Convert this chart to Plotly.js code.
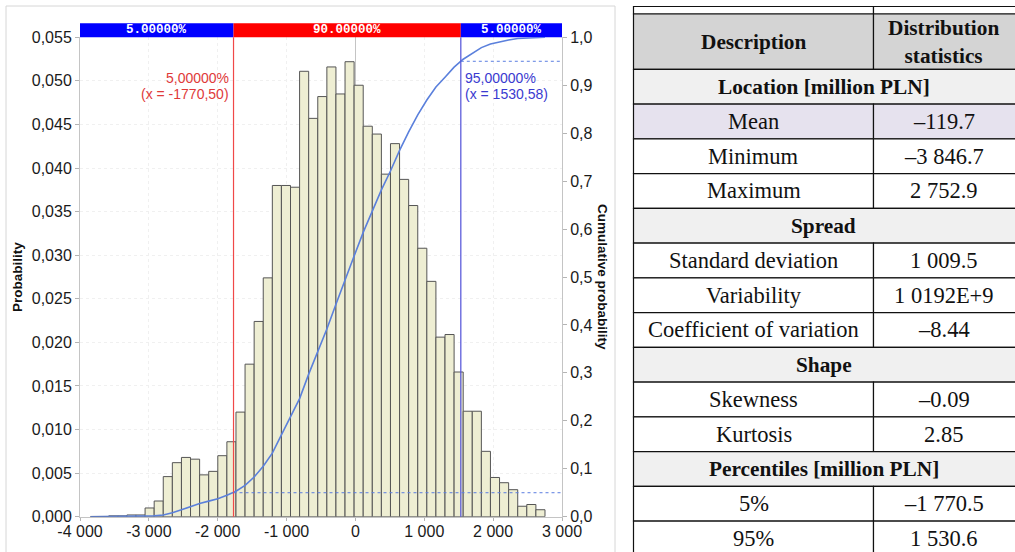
<!DOCTYPE html>
<html>
<head>
<meta charset="utf-8">
<script src="https://cdn.plot.ly/plotly-3.0.1.min.js"></script>
<style>
  html, body { margin: 0; padding: 0; background: #ffffff; }
  #chart { width: 1015px; height: 552px; }
</style>
</head>
<body>
<div id="chart"></div>
<script>
// Histogram of simulated outcomes [million PLN]: probability per bin (50 equal bins from min to max)
const probabilities = [
  0.00003, 0.00003, 0.0001, 0.0001, 0.0002, 0.0002, 0.0010, 0.0018, 0.0046, 0.0062,
  0.0068, 0.0066, 0.0048, 0.0052, 0.0070, 0.0086, 0.0120, 0.0175, 0.0224, 0.0274,
  0.0380, 0.0380, 0.0378, 0.0511, 0.0457, 0.0482, 0.0516, 0.0485, 0.0522, 0.0495,
  0.0448, 0.0439, 0.0393, 0.0428, 0.0387, 0.0357, 0.0308, 0.0270, 0.0206, 0.0209,
  0.0166, 0.0121, 0.0121, 0.0075, 0.0045, 0.0039, 0.0031, 0.0012, 0.0014, 0.0008
];
const sampleMin = -3846.7;
const sampleMax = 2752.9;

// Percentile markers
const tailShares = [5, 90, 5];
const percentile5 = -1770.50;
const percentile95 = 1530.58;

// Axis ticks
const xTickValues = [-4000, -3000, -2000, -1000, 0, 1000, 2000, 3000];
const xTickLabels = ['-4 000', '-3 000', '-2 000', '-1 000', '0', '1 000', '2 000', '3 000'];

// Statistics table
const headerLabels = ['Description', 'Distribution<br>statistics'];
const rowLabels = [
  'Location [million PLN]', 'Mean', 'Minimum', 'Maximum',
  'Spread', 'Standard deviation', 'Variability', 'Coefficient of variation',
  'Shape', 'Skewness', 'Kurtosis',
  'Percentiles [million PLN]', '5%', '95%'
];
const rowValues = [
  null, '\u2013119.7', '\u20133 846.7', '2 752.9',
  null, '1 009.5', '1 0192E+9', '\u20138.44',
  null, '\u20130.09', '2.85',
  null, '\u20131 770.5', '1 530.6'
];
const highlightedRow = 'Mean';

// ---- derived series ----
const binCount = probabilities.length;
const binWidth = (sampleMax - sampleMin) / binCount;
const binCenters = probabilities.map((_, i) => sampleMin + (i + 0.5) * binWidth);
const binEdges = [sampleMin];
const cumulative = [0];
probabilities.forEach((p, i) => {
  binEdges.push(sampleMin + (i + 1) * binWidth);
  cumulative.push(Math.min(1, cumulative[i] + p));
});

// ---- page geometry ----
const W = 1015, H = 552;
const px = v => v / W;
const py = v => 1 - v / H;
const plotLeft = 80, plotRight = 562, plotTop = 37.3, plotBottom = 516.7;
const bandTop = 23.3;

const sansFont = 'Liberation Sans, Arial, sans-serif';
const serifFont = 'Liberation Serif, Times New Roman, serif';
const fmtPct = v => v.toFixed(5);
const fmtComma = (v, d) => v.toFixed(d).replace('.', ',');

const shapes = [];
const annotations = [];

// outer frame around the chart
shapes.push({type: 'rect', xref: 'paper', yref: 'paper',
  x0: px(6), x1: px(615), y0: py(570), y1: py(6),
  line: {color: '#d6d6d6', width: 1}, fillcolor: 'rgba(0,0,0,0)', layer: 'below'});

// coloured percentile bands above the plot
const bandBounds = [[-4000, percentile5], [percentile5, percentile95], [percentile95, 3000]];
const bandColors = ['#0000ff', '#ff0000', '#0000ff'];
bandBounds.forEach((b, i) => {
  shapes.push({type: 'rect', xref: 'x', yref: 'paper', x0: b[0], x1: b[1],
    y0: py(plotTop), y1: py(bandTop), fillcolor: bandColors[i], line: {width: 0}});
  annotations.push({xref: 'x', yref: 'paper', x: (b[0] + b[1]) / 2, y: py((plotTop + bandTop) / 2),
    text: fmtPct(tailShares[i]) + '%', showarrow: false, xanchor: 'center', yanchor: 'middle',
    font: {family: 'Liberation Mono, DejaVu Sans Mono, monospace', size: 12.5, color: '#ffffff', weight: 'bold'}});
});

// percentile lines
shapes.push({type: 'line', xref: 'x', yref: 'paper', x0: percentile5, x1: percentile5,
  y0: py(plotBottom), y1: py(plotTop), line: {color: '#f04848', width: 1.2}, layer: 'above'});
shapes.push({type: 'line', xref: 'x', yref: 'paper', x0: percentile95, x1: percentile95,
  y0: py(plotBottom), y1: py(plotTop), line: {color: '#5050d8', width: 1.2}, layer: 'above'});
shapes.push({type: 'line', xref: 'x', yref: 'y2', x0: percentile5, x1: 3000, y0: 0.05, y1: 0.05,
  line: {color: '#5a7de0', width: 1, dash: 'dot'}, layer: 'above'});
shapes.push({type: 'line', xref: 'x', yref: 'y2', x0: percentile95, x1: 3000, y0: 0.95, y1: 0.95,
  line: {color: '#5a7de0', width: 1, dash: 'dot'}, layer: 'above'});

// percentile labels
const lowColor = '#e03a3a', highColor = '#3a3ad0';
[[fmtPct(5).replace('.', ',') + '%', 77.7], ['(x = ' + fmtComma(percentile5, 2) + ')', 94.3]].forEach(t => {
  annotations.push({xref: 'x', yref: 'paper', x: percentile5, y: py(t[1]), xshift: -3,
    text: t[0], showarrow: false, xanchor: 'right', yanchor: 'middle',
    font: {family: sansFont, size: 14, color: lowColor}});
});
[[fmtPct(95).replace('.', ',') + '%', 77.7], ['(x = ' + fmtComma(percentile95, 2) + ')', 94.3]].forEach(t => {
  annotations.push({xref: 'x', yref: 'paper', x: percentile95, y: py(t[1]), xshift: 2,
    text: t[0], showarrow: false, xanchor: 'left', yanchor: 'middle',
    font: {family: sansFont, size: 14, color: highColor}});
});

// axis titles
annotations.push({xref: 'paper', yref: 'paper', x: px(17), y: py((plotTop + plotBottom) / 2),
  text: 'Probability', textangle: -90, showarrow: false, xanchor: 'center', yanchor: 'middle',
  font: {family: sansFont, size: 13.5, color: '#111', weight: 'bold'}});
annotations.push({xref: 'paper', yref: 'paper', x: px(603), y: py((plotTop + plotBottom) / 2),
  text: 'Cumulative probability', textangle: 90, showarrow: false, xanchor: 'center', yanchor: 'middle',
  font: {family: sansFont, size: 13.5, color: '#111', weight: 'bold'}});

// ---- statistics table ----
const tLeft = 633.5, tMid = 873.5, tRight = 1017;
const tTop = 6.5, tHeadTop = 14, tHeadBottom = 69.3, rowH = 34.75;
const border = {color: '#111111', width: 1.2};
const cell = (x0, x1, y0, y1, fill) => shapes.push({type: 'rect', xref: 'paper', yref: 'paper',
  x0: px(x0), x1: px(x1), y0: py(y1), y1: py(y0), fillcolor: fill, line: border});
const cellText = (x, y, text, bold, size) => annotations.push({xref: 'paper', yref: 'paper',
  x: px(x), y: py(y), text: text, showarrow: false, xanchor: 'center', yanchor: 'middle',
  font: {family: serifFont, size: size, color: '#111111', weight: bold ? 'bold' : 'normal'}});

cell(tLeft, tMid, tTop, tHeadTop, '#ffffff');
cell(tMid, tRight, tTop, tHeadTop, '#ffffff');
cell(tLeft, tMid, tHeadTop, tHeadBottom, '#d4d4d4');
cell(tMid, tRight, tHeadTop, tHeadBottom, '#d4d4d4');
cellText((tLeft + tMid) / 2, (tHeadTop + tHeadBottom) / 2, headerLabels[0], true, 21.3);
cellText((tMid + 1014) / 2, (tHeadTop + tHeadBottom) / 2, headerLabels[1], true, 21.3);

rowLabels.forEach((label, i) => {
  const y0 = tHeadBottom + i * rowH, y1 = y0 + rowH, yc = (y0 + y1) / 2;
  if (rowValues[i] === null) {
    cell(tLeft, tRight, y0, y1, '#f0f0f0');
    cellText((tLeft + 1014) / 2, yc, label, true, 21.3);
  } else {
    const fill = label === highlightedRow ? '#e6e2ee' : '#ffffff';
    cell(tLeft, tMid, y0, y1, fill);
    cell(tMid, tRight, y0, y1, fill);
    cellText((tLeft + tMid) / 2, yc, label, false, 22.5);
    cellText((tMid + 1014) / 2, yc, rowValues[i], false, 22.5);
  }
});

// ---- traces ----
const histogram = {
  type: 'bar', x: binCenters, y: probabilities, width: binWidth,
  marker: {color: '#eeeed3', line: {color: '#555555', width: 1}},
  xaxis: 'x', yaxis: 'y', hoverinfo: 'skip'
};
const cdf = {
  type: 'scatter', mode: 'lines', x: binEdges, y: cumulative,
  line: {color: '#5b80dc', width: 1.6},
  xaxis: 'x', yaxis: 'y2', hoverinfo: 'skip'
};

const axisCommon = {
  showline: true, linecolor: '#c4c4c4', linewidth: 1,
  ticks: 'outside', ticklen: 4, tickcolor: '#b4b4b4',
  tickfont: {family: sansFont, size: 16, color: '#1a1a1a'}
};

const layout = {
  width: W, height: H,
  margin: {l: 0, r: 0, t: 0, b: 0},
  paper_bgcolor: '#ffffff', plot_bgcolor: '#ffffff',
  separators: ', ',
  showlegend: false,
  bargap: 0,
  xaxis: Object.assign({}, axisCommon, {
    domain: [px(plotLeft), px(plotRight)], range: [-4000, 3000],
    tickmode: 'array', tickvals: xTickValues, ticktext: xTickLabels,
    ticklen: 3, ticklabelstandoff: -3,
    showgrid: true, gridcolor: '#f0f0f0', griddash: 'dot',
    zeroline: true, zerolinecolor: '#c4c4c4', zerolinewidth: 1,
    anchor: 'y', fixedrange: true
  }),
  yaxis: Object.assign({}, axisCommon, {
    domain: [py(plotBottom), py(plotTop)], range: [0, 0.055],
    tickmode: 'linear', tick0: 0, dtick: 0.005, tickformat: '.3f',
    showgrid: true, gridcolor: '#f0f0f0', griddash: 'dot', zeroline: false,
    anchor: 'x', fixedrange: true
  }),
  yaxis2: Object.assign({}, axisCommon, {
    overlaying: 'y', side: 'right', anchor: 'x', range: [0, 1],
    tickmode: 'linear', tick0: 0, dtick: 0.1, tickformat: '.1f',
    showgrid: false, zeroline: false, fixedrange: true
  }),
  shapes: shapes,
  annotations: annotations
};

Plotly.newPlot('chart', [histogram, cdf], layout, {displayModeBar: false, staticPlot: true});
</script>
</body>
</html>
